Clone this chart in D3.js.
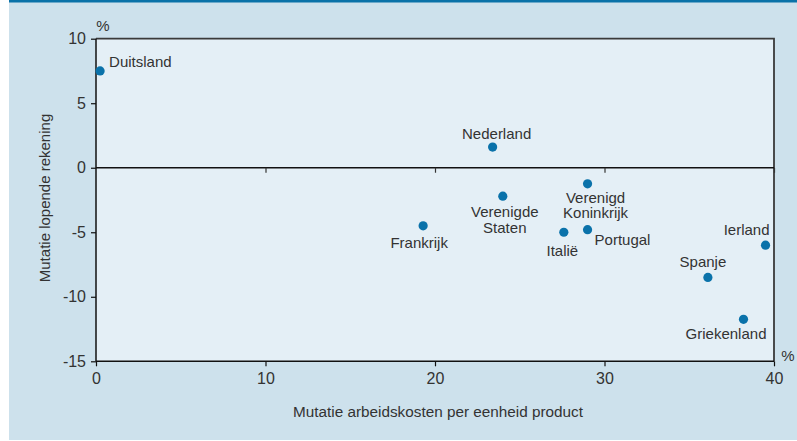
<!DOCTYPE html>
<html><head><meta charset="utf-8">
<script src="https://cdn.jsdelivr.net/npm/d3@7"></script>
<style>body{margin:0;background:#fff;} svg{display:block;} text{font-family:"Liberation Sans",Arial,sans-serif;fill:#333;}</style>
</head><body>
<svg id="c" width="797" height="441"></svg>
<script>
const countries = ["Duitsland","Nederland","Verenigde Staten","Frankrijk","Verenigd Koninkrijk","Italië","Portugal","Ierland","Spanje","Griekenland"];
const labelLines = [["Duitsland"],["Nederland"],["Verenigde","Staten"],["Frankrijk"],["Verenigd","Koninkrijk"],["Italië"],["Portugal"],["Ierland"],["Spanje"],["Griekenland"]];
const unitLabourCost = [0.24, 23.4, 24.0, 19.3, 29.0, 27.6, 29.0, 39.5, 36.1, 38.2];
const currentAccount = [7.5, 1.6, -2.2, -4.5, -1.25, -5.0, -4.8, -6.0, -8.5, -11.75];
const xTicks = [0,10,20,30,40];
const yTicks = [10,5,0,-5,-10,-15];
const xTitle = "Mutatie arbeidskosten per eenheid product";
const yTitle = "Mutatie lopende rekening";

// label placement (anchor, dx, dy of first baseline)
const labelPos = [
  ["start", 9, -4], ["middle", 4, -8], ["middle", 2, 21], ["middle", -4, 22.5],
  ["middle", 8, 19], ["middle", -1.5, 24], ["start", 7, 15], ["end", 4, -10],
  ["middle", -5, -10], ["end", 23, 20]
];

const svg = d3.select("#c");
svg.append("rect").attr("x",9).attr("y",0).attr("width",788).attr("height",440).attr("fill","#cde1ec");
svg.append("rect").attr("x",9).attr("y",0).attr("width",788).attr("height",2.5).attr("fill","#0a72a8");

const L=96, R=774, T=38.7, B=361.3;
const x = d3.scaleLinear().domain([0,40]).range([L,R]);
const y = d3.scaleLinear().domain([-15,10]).range([B,T]);
const fmt = d => String(d);

svg.append("rect").attr("x",L).attr("y",T).attr("width",R-L).attr("height",B-T).attr("fill","#e4eff6");
svg.append("path").attr("d",`M${L},${T}H${R}V${B}`).attr("fill","none").attr("stroke","#3a3a3a").attr("stroke-width",1.8);

const gx = svg.append("g").attr("transform",`translate(0,${B})`)
  .call(d3.axisBottom(x).tickValues(xTicks).tickSize(5).tickPadding(6).tickFormat(fmt));
gx.select(".domain").attr("stroke","#111").attr("stroke-width",1.5).attr("d",`M${L},0H${R}`);
gx.selectAll(".tick line").attr("stroke","#111").attr("stroke-width",1.2);
gx.selectAll("text").style("font-size","16px").attr("fill","#333");

const gy = svg.append("g").attr("transform",`translate(${L},0)`)
  .call(d3.axisLeft(y).tickValues(yTicks).tickSize(5).tickPadding(5).tickFormat(fmt));
gy.select(".domain").attr("stroke","#111").attr("stroke-width",1.5).attr("d",`M0,${T}V${B}`);
gy.selectAll(".tick line").attr("stroke","#111").attr("stroke-width",1.2);
gy.selectAll("text").style("font-size","16px").attr("fill","#333");

const gz = svg.append("g").attr("transform",`translate(0,${y(0)})`)
  .call(d3.axisBottom(x).tickValues(xTicks.slice(1)).tickSize(5).tickFormat(""));
gz.select(".domain").attr("stroke","#111").attr("stroke-width",1.5).attr("d",`M${L},0H${R}`);
gz.selectAll(".tick line").attr("stroke","#333").attr("stroke-width",1.2);

svg.append("text").attr("x",L+7).attr("y",31).attr("text-anchor","middle").style("font-size","15px").text("%");
svg.append("text").attr("x",R+14).attr("y",361).attr("text-anchor","middle").style("font-size","15px").text("%");

svg.append("text").attr("x",438).attr("y",417).attr("text-anchor","middle").style("font-size","15.3px").text(xTitle);
svg.append("text").attr("transform",`translate(50,${198}) rotate(-90)`).attr("text-anchor","middle").style("font-size","15px").text(yTitle);

const data = countries.map((c,i)=>({c, lines:labelLines[i], x:unitLabourCost[i], y:currentAccount[i], p:labelPos[i]}));
svg.append("g").selectAll("circle").data(data).join("circle")
  .attr("cx",d=>x(d.x)).attr("cy",d=>y(d.y)).attr("r",4.6).attr("fill","#0a72aa");

const lab = svg.append("g").selectAll("text").data(data).join("text")
  .attr("text-anchor",d=>d.p[0])
  .attr("x",d=>x(d.x)+d.p[1]).attr("y",d=>y(d.y)+d.p[2])
  .style("font-size","15px");
lab.each(function(d){
  d3.select(this).selectAll("tspan").data(d.lines).join("tspan")
    .attr("x",x(d.x)+d.p[1]).attr("dy",(l,i)=>i===0?0:15.5).text(l=>l);
});
</script>
</body></html>
